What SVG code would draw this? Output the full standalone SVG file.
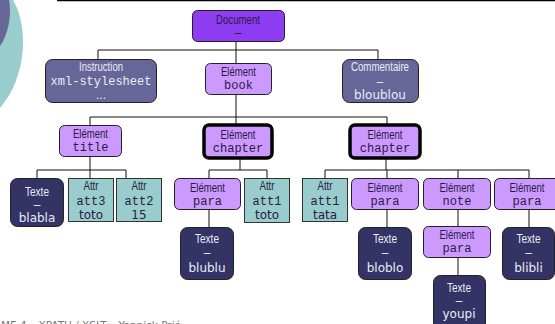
<svg xmlns="http://www.w3.org/2000/svg" width="555" height="324" viewBox="0 0 555 324">
  <style>
    .box { stroke: #222; stroke-width: 1; }
    .doc { fill: #8e3df2; }
    .elem { fill: #cc99ff; }
    .misc { fill: #666699; }
    .txt { fill: #333366; }
    .attr { fill: #99cccc; stroke: #333; stroke-width: 1; }
    .bold { stroke: #000; stroke-width: 3.5; }
    .conn { fill: none; stroke: #111; stroke-width: 1; }
    text { text-anchor: middle; font-size: 12px; }
    .n { font-family: "Liberation Sans", Arial, sans-serif; }
    .m { font-family: "Liberation Mono", "Courier New", monospace; }
    .s { font-family: "DejaVu Sans", Verdana, sans-serif; }
    .dk { fill: #2a1a44; }
    .lt { fill: #ececf6; }
    .foot { text-anchor: start; font-size: 11px; fill: #777; font-family: "DejaVu Sans", Verdana, sans-serif; }
  </style>

  <!-- corner decoration -->
  <path d="M0,0 H13 C28,25 28,75 0,108 Z" fill="#99cccc"/>
  <path d="M0,0 H9 C12,15 8,35 0,46 Z" fill="#666699"/>
  <line x1="57" y1="0.5" x2="555" y2="0.5" stroke="#000" stroke-width="1.5"/>

  <g id="connectors" class="conn">
    <path d="M236,42 V50 M98,59 V50 H378 V59 M236,50 V63"/>
    <path d="M236,95 V117 M90,125 V117 H387 V125 M236,117 V125"/>
    <path d="M90,156 V170 M37,178 V170 H126 V178 M90,170 V178"/>
    <path d="M240,158 V170 M209,178 V170 H267 V178"/>
    <path d="M209,210 V227"/>
    <path d="M386,158 V170 M325,178 V170 H529 V178 M387,170 V178 M458,170 V178"/>
    <path d="M387,210 V227"/>
    <path d="M458,210 V226 M458,257 V275"/>
    <path d="M529,210 V227"/>
  </g>

  <g id="document">
    <rect class="box doc" x="192.5" y="10.5" width="92" height="31" rx="5"/>
    <text class="n dk" x="238" y="24" textLength="44" lengthAdjust="spacingAndGlyphs">Document</text>
    <text class="n dk" x="238" y="37">–</text>
  </g>

  <g id="instruction">
    <rect class="box misc" x="45.5" y="59.5" width="111" height="43" rx="7"/>
    <text class="n lt" x="101" y="71" textLength="44" lengthAdjust="spacingAndGlyphs">Instruction</text>
    <text class="m lt" x="101" y="85">xml-stylesheet</text>
    <text class="n lt" x="101" y="99">...</text>
  </g>

  <g id="book">
    <rect class="box elem" x="205.5" y="63.5" width="66" height="31" rx="5"/>
    <text class="n dk" x="238.5" y="76" textLength="35" lengthAdjust="spacingAndGlyphs">Elément</text>
    <text class="m dk" x="238.5" y="89">book</text>
  </g>

  <g id="commentaire">
    <rect class="box misc" x="342.5" y="59.5" width="76" height="43" rx="7"/>
    <text class="n lt" x="380" y="71" textLength="58" lengthAdjust="spacingAndGlyphs">Commentaire</text>
    <text class="n lt" x="380" y="86">–</text>
    <text class="s lt" x="380" y="99">bloublou</text>
  </g>

  <g id="title">
    <rect class="box elem" x="59.5" y="125.5" width="62" height="31" rx="5"/>
    <text class="n dk" x="90.5" y="138" textLength="35" lengthAdjust="spacingAndGlyphs">Elément</text>
    <text class="m dk" x="90.5" y="151">title</text>
  </g>

  <g id="chapter-1">
    <rect class="elem bold" x="204" y="125" width="68" height="33" rx="5"/>
    <text class="n dk" x="238" y="139" textLength="35" lengthAdjust="spacingAndGlyphs">Elément</text>
    <text class="m dk" x="238" y="152">chapter</text>
  </g>

  <g id="chapter-2">
    <rect class="elem bold" x="350" y="125" width="70" height="33" rx="5"/>
    <text class="n dk" x="385" y="139" textLength="35" lengthAdjust="spacingAndGlyphs">Elément</text>
    <text class="m dk" x="385" y="152">chapter</text>
  </g>

  <g id="texte-blabla">
    <rect class="box txt" x="10.5" y="178.5" width="53" height="48" rx="7"/>
    <text class="n lt" x="37" y="196" textLength="24" lengthAdjust="spacingAndGlyphs">Texte</text>
    <text class="n lt" x="37" y="209">–</text>
    <text class="s lt" x="37" y="222">blabla</text>
  </g>

  <g id="attr-att3">
    <rect class="attr" x="68.5" y="178.5" width="45" height="43"/>
    <text class="n dk" x="91" y="190" textLength="15" lengthAdjust="spacingAndGlyphs">Attr</text>
    <text class="m dk" x="91" y="205">att3</text>
    <text class="s dk" x="91" y="219">toto</text>
  </g>

  <g id="attr-att2">
    <rect class="attr" x="116.5" y="178.5" width="45" height="43"/>
    <text class="n dk" x="139" y="190" textLength="15" lengthAdjust="spacingAndGlyphs">Attr</text>
    <text class="m dk" x="139" y="205">att2</text>
    <text class="s dk" x="139" y="219">15</text>
  </g>

  <g id="para-1">
    <rect class="box elem" x="174.5" y="178.5" width="66" height="31" rx="5"/>
    <text class="n dk" x="207.5" y="192" textLength="35" lengthAdjust="spacingAndGlyphs">Elément</text>
    <text class="m dk" x="207.5" y="205">para</text>
  </g>

  <g id="attr-att1-toto">
    <rect class="attr" x="244.5" y="178.5" width="45" height="44"/>
    <text class="n dk" x="267" y="190" textLength="15" lengthAdjust="spacingAndGlyphs">Attr</text>
    <text class="m dk" x="267" y="205">att1</text>
    <text class="s dk" x="267" y="219">toto</text>
  </g>

  <g id="texte-blublu">
    <rect class="box txt" x="180.5" y="227.5" width="53" height="52" rx="7"/>
    <text class="n lt" x="207" y="243" textLength="24" lengthAdjust="spacingAndGlyphs">Texte</text>
    <text class="n lt" x="207" y="257">–</text>
    <text class="s lt" x="207" y="272">blublu</text>
  </g>

  <g id="attr-att1-tata">
    <rect class="attr" x="302.5" y="178.5" width="45" height="43"/>
    <text class="n dk" x="325" y="190" textLength="15" lengthAdjust="spacingAndGlyphs">Attr</text>
    <text class="m dk" x="325" y="205">att1</text>
    <text class="s dk" x="325" y="219">tata</text>
  </g>

  <g id="para-2">
    <rect class="box elem" x="351.5" y="178.5" width="67" height="31" rx="5"/>
    <text class="n dk" x="385" y="192" textLength="35" lengthAdjust="spacingAndGlyphs">Elément</text>
    <text class="m dk" x="385" y="205">para</text>
  </g>

  <g id="note">
    <rect class="box elem" x="423.5" y="178.5" width="67" height="31" rx="5"/>
    <text class="n dk" x="457" y="192" textLength="35" lengthAdjust="spacingAndGlyphs">Elément</text>
    <text class="m dk" x="457" y="205">note</text>
  </g>

  <g id="para-3">
    <rect class="box elem" x="494.5" y="178.5" width="66" height="31" rx="5"/>
    <text class="n dk" x="527" y="192" textLength="35" lengthAdjust="spacingAndGlyphs">Elément</text>
    <text class="m dk" x="527" y="205">para</text>
  </g>

  <g id="texte-bloblo">
    <rect class="box txt" x="358.5" y="227.5" width="53" height="52" rx="7"/>
    <text class="n lt" x="385" y="243" textLength="24" lengthAdjust="spacingAndGlyphs">Texte</text>
    <text class="n lt" x="385" y="257">–</text>
    <text class="s lt" x="385" y="272">bloblo</text>
  </g>

  <g id="para-4">
    <rect class="box elem" x="423.5" y="226.5" width="67" height="31" rx="5"/>
    <text class="n dk" x="457" y="239" textLength="35" lengthAdjust="spacingAndGlyphs">Elément</text>
    <text class="m dk" x="457" y="252">para</text>
  </g>

  <g id="texte-youpi">
    <rect class="box txt" x="433.5" y="275.5" width="52" height="55" rx="7"/>
    <text class="n lt" x="459" y="292" textLength="24" lengthAdjust="spacingAndGlyphs">Texte</text>
    <text class="n lt" x="459" y="305">–</text>
    <text class="s lt" x="459" y="318">youpi</text>
  </g>

  <g id="texte-blibli">
    <rect class="box txt" x="502.5" y="227.5" width="52" height="52" rx="7"/>
    <text class="n lt" x="528.5" y="243" textLength="24" lengthAdjust="spacingAndGlyphs">Texte</text>
    <text class="n lt" x="528.5" y="257">–</text>
    <text class="s lt" x="528.5" y="272">blibli</text>
  </g>

  <!-- footer, running off the bottom edge -->
  <text class="foot" x="1" y="329" textLength="180" lengthAdjust="spacingAndGlyphs">ME 4 – XPATH / XSLT – Yannick Prié</text>
</svg>
